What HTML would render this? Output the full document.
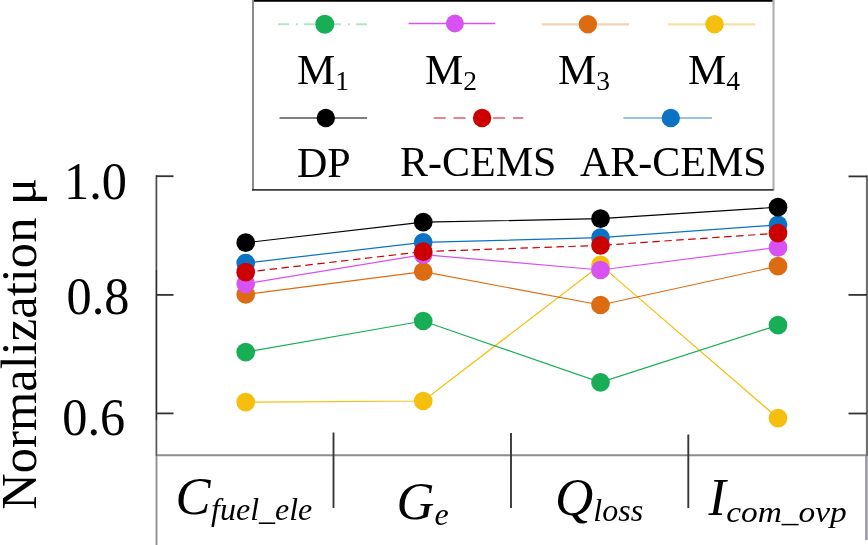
<!DOCTYPE html>
<html><head><meta charset="utf-8"><style>
html,body{margin:0;padding:0;background:#fff;}
svg{display:block;}
text{font-family:"Liberation Serif","Times New Roman",serif;fill:#000;}
</style></head><body>
<svg width="868" height="545" viewBox="0 0 868 545">
<rect width="868" height="545" fill="#fff"/>
<!-- axes -->
<g fill="none">
<line x1="156.4" y1="175.3" x2="156.4" y2="270" stroke="#4a4a4a" stroke-width="1.7"/>
<line x1="156.4" y1="270" x2="156.4" y2="420" stroke="#2a2a2a" stroke-width="1.7"/>
<line x1="156.4" y1="420" x2="156.4" y2="456" stroke="#555" stroke-width="1.7"/>
<line x1="156.5" y1="456" x2="156.5" y2="545" stroke="#909090" stroke-width="1.9"/>
<line x1="867" y1="175.5" x2="867" y2="456" stroke="#6e6e6e" stroke-width="2.2"/>
<line x1="866.4" y1="456" x2="866.4" y2="540" stroke="#9a9aa2" stroke-width="2.6"/>
<g stroke="#333" stroke-width="1.8">
<line x1="156" y1="176.2" x2="173.5" y2="176.2"/>
<line x1="156" y1="294.9" x2="173.5" y2="294.9"/>
<line x1="156" y1="413.4" x2="173.5" y2="413.4"/>
<line x1="848.5" y1="176.4" x2="867" y2="176.4"/>
<line x1="848.5" y1="294.9" x2="867" y2="294.9"/>
<line x1="848.5" y1="413.5" x2="867" y2="413.5"/>
</g>
<line x1="157" y1="455.2" x2="866" y2="455.2" stroke="#8c8c8c" stroke-width="1.9"/>
<g stroke="#383838" stroke-width="1.9">
<line x1="333.5" y1="432.5" x2="333.5" y2="508"/>
<line x1="511" y1="433" x2="511" y2="508"/>
<line x1="688.3" y1="434.5" x2="688.3" y2="508"/>
</g>
</g>
<!-- tick labels -->
<g font-size="53">
<text transform="translate(64,198.7) scale(0.95,1)">1.0</text>
<text transform="translate(66.5,314.2) scale(0.95,1)">0.8</text>
<text transform="translate(62.3,434.8) scale(0.95,1)">0.6</text>
</g>
<text font-size="50.6" transform="translate(35.5,509.8) rotate(-90)">Normalization μ</text>
<!-- x labels -->
<g font-style="italic">
<text x="175.5" y="514" font-size="52.5">C<tspan font-size="32" dy="6.3" dx="0.5">fuel_ele</tspan></text>
<text x="396.5" y="518.7" font-size="52.5">G<tspan font-size="32" dy="6.5">e</tspan></text>
<text x="555" y="514.5" font-size="53">Q<tspan font-size="32" dy="6">loss</tspan></text>
<text x="708.5" y="514.8" font-size="52">I</text>
<text font-size="33.4" transform="translate(726.2,521.6) scale(1,0.9)">com_ovp</text>
</g>
<!-- plot -->
<polyline points="245.7,402.1 423.2,401.0 600.5,264.9 778.0,418.2" fill="none" stroke="#f6bf0e" stroke-width="1.2"/>
<circle cx="245.7" cy="402.1" r="9.35" fill="#f6bf0e"/>
<circle cx="423.2" cy="401.0" r="9.35" fill="#f6bf0e"/>
<circle cx="600.5" cy="264.9" r="9.35" fill="#f6bf0e"/>
<circle cx="778.0" cy="418.2" r="9.35" fill="#f6bf0e"/>
<polyline points="245.7,294.4 423.2,271.7 600.5,305.0 778.0,266.2" fill="none" stroke="#dd6b12" stroke-width="1.2"/>
<circle cx="245.7" cy="294.4" r="9.35" fill="#dd6b12"/>
<circle cx="423.2" cy="271.7" r="9.35" fill="#dd6b12"/>
<circle cx="600.5" cy="305.0" r="9.35" fill="#dd6b12"/>
<circle cx="778.0" cy="266.2" r="9.35" fill="#dd6b12"/>
<polyline points="245.7,283.8 423.2,254.6 600.5,270.0 778.0,247.4" fill="none" stroke="#d752f0" stroke-width="1.2"/>
<circle cx="245.7" cy="283.8" r="9.35" fill="#d752f0"/>
<circle cx="423.2" cy="254.6" r="9.35" fill="#d752f0"/>
<circle cx="600.5" cy="270.0" r="9.35" fill="#d752f0"/>
<circle cx="778.0" cy="247.4" r="9.35" fill="#d752f0"/>
<polyline points="245.7,352.1 423.2,321.0 600.5,382.4 778.0,325.1" fill="none" stroke="#17ae55" stroke-width="1.2"/>
<circle cx="245.7" cy="352.1" r="9.35" fill="#17ae55"/>
<circle cx="423.2" cy="321.0" r="9.35" fill="#17ae55"/>
<circle cx="600.5" cy="382.4" r="9.35" fill="#17ae55"/>
<circle cx="778.0" cy="325.1" r="9.35" fill="#17ae55"/>
<polyline points="245.7,263.0 423.2,242.4 600.5,237.7 778.0,224.9" fill="none" stroke="#0b72c6" stroke-width="1.2"/>
<circle cx="245.7" cy="263.0" r="9.35" fill="#0b72c6"/>
<circle cx="423.2" cy="242.4" r="9.35" fill="#0b72c6"/>
<circle cx="600.5" cy="237.7" r="9.35" fill="#0b72c6"/>
<circle cx="778.0" cy="224.9" r="9.35" fill="#0b72c6"/>
<polyline points="245.7,272.2 423.2,251.6 600.5,245.4 778.0,233.2" fill="none" stroke="#cc0000" stroke-width="1.2" stroke-dasharray="7.5 4.5"/>
<circle cx="245.7" cy="272.2" r="9.35" fill="#cc0000"/>
<circle cx="423.2" cy="251.6" r="9.35" fill="#cc0000"/>
<circle cx="600.5" cy="245.4" r="9.35" fill="#cc0000"/>
<circle cx="778.0" cy="233.2" r="9.35" fill="#cc0000"/>
<polyline points="245.7,242.7 423.2,222.2 600.5,218.7 778.0,207.2" fill="none" stroke="#000000" stroke-width="1.2"/>
<circle cx="245.7" cy="242.7" r="9.35" fill="#000000"/>
<circle cx="423.2" cy="222.2" r="9.35" fill="#000000"/>
<circle cx="600.5" cy="218.7" r="9.35" fill="#000000"/>
<circle cx="778.0" cy="207.2" r="9.35" fill="#000000"/>
<!-- legend -->
<rect x="253" y="0" width="520.5" height="190" fill="#fff"/>
<line x1="253" y1="0" x2="253" y2="190.5" stroke="#8a8a8a" stroke-width="2"/>
<line x1="773.5" y1="0" x2="773.5" y2="190.5" stroke="#b0b3ba" stroke-width="2.2"/>
<line x1="254" y1="0.8" x2="772.5" y2="0.8" stroke="#000" stroke-width="1.8"/>
<line x1="252" y1="189.9" x2="773.5" y2="189.9" stroke="#3a3a3a" stroke-width="1.7"/>
<g stroke-width="2">
<line x1="278" y1="24.3" x2="369" y2="24.3" stroke="#b3e4c7" stroke-dasharray="11 7 2 6"/>
<circle cx="324.8" cy="24.3" r="9.5" fill="#17ae55"/>
<line x1="408.6" y1="23.5" x2="495.3" y2="23.5" stroke="#d752f0" stroke-width="1.6"/>
<circle cx="454.9" cy="23.5" r="9" fill="#d752f0"/>
<line x1="541.7" y1="24.3" x2="629" y2="24.3" stroke="#f3d2b6" stroke-width="2.2"/>
<circle cx="587.9" cy="24.3" r="9.2" fill="#dd6b12"/>
<line x1="668" y1="24.3" x2="755.3" y2="24.3" stroke="#f7e3a6" stroke-width="2.2"/>
<circle cx="714.5" cy="24.3" r="9.2" fill="#f6bf0e"/>
<line x1="279.5" y1="118" x2="367" y2="118" stroke="#555" stroke-width="1.4"/>
<circle cx="325.8" cy="118" r="9.2" fill="#000"/>
<line x1="433.7" y1="118" x2="523.3" y2="118" stroke="#dc5f6b" stroke-width="1.6" stroke-dasharray="12 7.8"/>
<circle cx="482.1" cy="118" r="9.2" fill="#cc0000"/>
<line x1="623.3" y1="118" x2="712" y2="118" stroke="#74aee0" stroke-width="1.6"/>
<circle cx="670.8" cy="118" r="9.2" fill="#0b72c6"/>
</g>
<g font-size="42">
<text x="297" y="84.2" font-size="43">M<tspan font-size="27.5" dy="5.8">1</tspan></text>
<text x="425" y="84.2" font-size="43">M<tspan font-size="27.5" dy="5.8">2</tspan></text>
<text x="558" y="84.2" font-size="43">M<tspan font-size="27.5" dy="5.8">3</tspan></text>
<text x="688" y="84.2" font-size="43">M<tspan font-size="27.5" dy="5.8">4</tspan></text>
<text x="297" y="176.5">DP</text>
<text x="400" y="175.5">R-CEMS</text>
<text x="580" y="176.3">AR-CEMS</text>
</g>
</svg>
</body></html>
